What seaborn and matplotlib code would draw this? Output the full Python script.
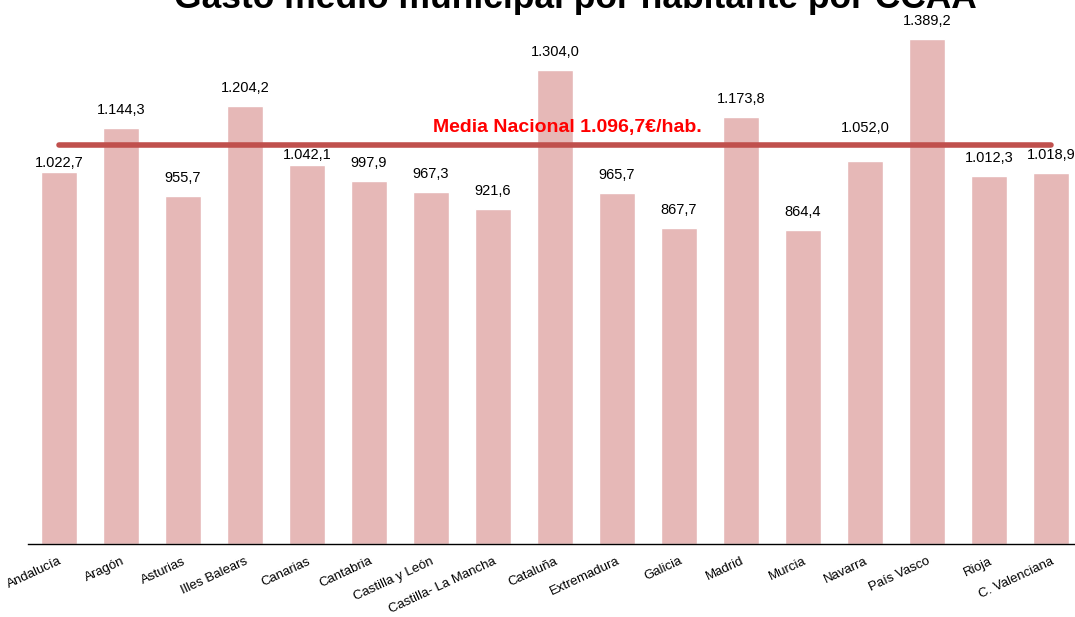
import numpy as np
import pandas as pd
import seaborn as sns
import matplotlib.pyplot as plt

regions = ['Andalucía', 'Aragón', 'Asturias', 'Illes Balears', 'Canarias', 'Cantabria',
           'Castilla y León', 'Castilla- La Mancha', 'Cataluña', 'Extremadura', 'Galicia',
           'Madrid', 'Murcia', 'Navarra', 'País Vasco', 'Rioja', 'C. Valenciana']
gasto = [1022.7, 1144.3, 955.7, 1204.2, 1042.1, 997.9, 967.3, 921.6, 1304.0, 965.7,
         867.7, 1173.8, 864.4, 1052.0, 1389.2, 1012.3, 1018.9]
media = 1096.7

# label gap above each bar (points)
gaps = [1.5, 8, 8, 8, 2, 8, 8, 8, 8, 8, 8, 8, 8, 19, 8, 8, 8]

def fmt(v):
    s = f'{v:,.1f}'
    return s.replace(',', 'X').replace('.', ',').replace('X', '.')

sns.set_style('white')
plt.rcParams['font.family'] = ['Liberation Sans', 'DejaVu Sans']
plt.rcParams['text.color'] = 'black'

df = pd.DataFrame({'region': regions, 'gasto': gasto})

fig = plt.figure(figsize=(10.75, 6.17), dpi=100)
ax = fig.add_axes([28 / 1075, 73 / 617, 1047 / 1075, 544 / 617])
sns.barplot(data=df, x='region', y='gasto', color='#E6B8B7', saturation=1,
            width=0.58, ax=ax)

ax.set_ylim(0, 1496)
ax.set_xlim(-0.5, 16.39)

for i, v in enumerate(gasto):
    ax.annotate(fmt(v), (i, v), xytext=(0, gaps[i]), textcoords='offset points',
                ha='center', va='bottom', fontsize=10.5, color='black')

ax.plot([0, len(regions) - 1], [media, media], color='#C0504D', lw=4,
        solid_capstyle='round')
ax.text(8.2, media + 25, f'Media Nacional {fmt(media)}€/hab.', color='#FF0000',
        fontsize=14, fontweight='bold', ha='center', va='bottom')

ax.set_xlabel('')
ax.set_ylabel('')
ax.set_yticks([])
ax.tick_params(axis='x', length=0, pad=8, labelcolor='black')
for lab in ax.get_xticklabels():
    lab.set_rotation(25)
    lab.set_ha('right')
    lab.set_rotation_mode('anchor')
    lab.set_fontsize(9.5)
for s in ['top', 'right', 'left']:
    ax.spines[s].set_visible(False)
ax.spines['bottom'].set_color('black')
ax.spines['bottom'].set_linewidth(1)

fig.text(0.535, 609 / 617, 'Gasto medio municipal por habitante por CCAA',
         ha='center', va='baseline', fontsize=25.5, fontweight='bold', color='black')

fig.savefig('out.png', dpi=100)
